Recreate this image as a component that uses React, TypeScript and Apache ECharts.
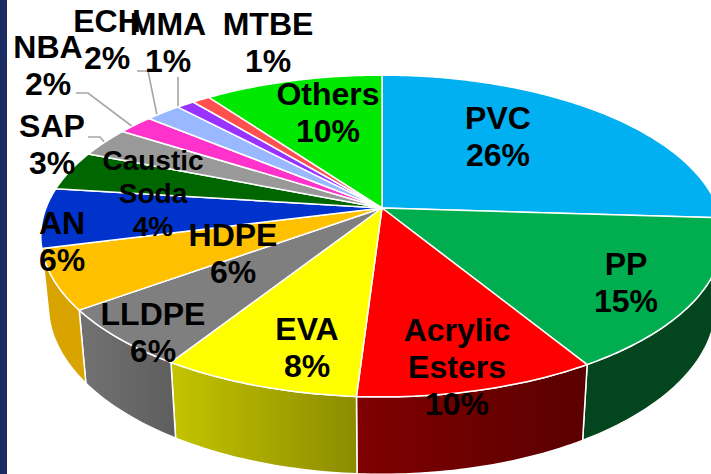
import React, { useEffect, useRef } from "react";
import * as echarts from "echarts";

// ---- data ----
const names = ["PVC", "PP", "Acrylic\nEsters", "EVA", "LLDPE", "HDPE", "AN", "Caustic\nSoda", "SAP", "NBA", "ECH", "MMA", "MTBE", "Others"];
const shares = [26, 15.3, 9.7, 8, 6, 6, 6, 4, 3, 2, 2, 1, 1, 10];

// ---- styles ----
const faceColors = ["#00b0f0", "#00ae4f", "#ff0000", "#ffff00", "#7f7f7f", "#ffc000", "#0033cc", "#006600", "#999999", "#ff33cc", "#99b8ff", "#9933ff", "#ff5050", "#00e800"];
const wallColors: (string[] | null)[] = [
  null,
  ["#03451f", "#03451f"],
  ["#800000", "#5a0000"],
  ["#c4c400", "#8c8c00"],
  ["#727272", "#5e5e5e"],
  ["#d9a300", "#d9a300"],
  null, null, null, null, null, null, null, null,
];

// ---- layout ----
const labelCentres = [
  [498, 136], [626, 282], [457, 367], [307, 347], [153, 332], [233, 253], [62, 241],
  [153, 193], [52, 144], [48, 65], [107, 39], [168, 42], [268, 42], [328, 112],
];
const leaders = [
  [[88, 137], [100, 137], [106, 144]],
  [[76, 93], [88, 93], [133, 127]],
  [[137, 71], [148, 71], [157, 115]],
  [[178, 77], [178, 107]],
];
const APEX_X = 382, APEX_Y = 208, RX = 336, RY = 156, PERSPECTIVE = 0.174;
const WALL_X_SCALE = 0.978, WALL_BASE = 68, WALL_GROW = 0.05;

const total = shares.reduce((a, b) => a + b, 0);
const startOf = (i: number) => shares.slice(0, i).reduce((a, b) => a + b, 0) / total;

const rimPoint = (turn: number) => {
  const t = turn * 2 * Math.PI;
  const w = 1 + PERSPECTIVE * Math.cos(t);
  return [APEX_X + (RX * Math.sin(t)) / w, APEX_Y - (RY * Math.cos(t)) / w];
};
const basePoint = (p: number[]) => [
  APEX_X + WALL_X_SCALE * (p[0] - APEX_X),
  p[1] + WALL_BASE + WALL_GROW * (p[1] - APEX_Y),
];
const rimArc = (from: number, to: number) => {
  const n = Math.max(4, Math.ceil((to - from) * 360));
  const pts: number[][] = [];
  for (let k = 0; k <= n; k++) pts.push(rimPoint(from + ((to - from) * k) / n));
  return pts;
};

const data = shares.map((v) => ({ value: [v] }));

export default function App() {
  const ref = useRef<HTMLDivElement>(null);
  useEffect(() => {
    document.body.style.margin = "0";
    const chart = echarts.init(ref.current!, null, { renderer: "svg" });
    chart.setOption({
      animation: false,
      backgroundColor: "#ffffff",
      graphic: [
        { type: "rect", z: 50, shape: { x: 0, y: 0, width: 7, height: 474 }, style: { fill: "#1a2b63" } },
        ...leaders.map((pts) => ({
          type: "polyline", z: 1, shape: { points: pts },
          style: { stroke: "#a6a6a6", lineWidth: 1.6, fill: "none" },
        })),
      ],
      series: [
        {
          type: "custom", coordinateSystem: "none", z: 2, data, silent: true,
          renderItem: (params: any, api: any) => {
            const i = params.dataIndex;
            const colors = wallColors[i];
            if (!colors) return { type: "group", children: [] };
            const from = startOf(i);
            const arc = rimArc(from, from + api.value(0) / total);
            return {
              type: "polygon",
              shape: { points: [...arc, ...arc.map(basePoint).reverse()] },
              style: {
                fill: { type: "linear", x: 0, y: 0, x2: 1, y2: 0, colorStops: [{ offset: 0, color: colors[0] }, { offset: 1, color: colors[1] }] },
                stroke: "#ffffff", lineWidth: 1.5, lineJoin: "round",
              },
            };
          },
        },
        {
          type: "custom", coordinateSystem: "none", z: 3, data, silent: true,
          renderItem: (params: any, api: any) => {
            const i = params.dataIndex;
            const from = startOf(i);
            const arc = rimArc(from, from + api.value(0) / total);
            return {
              type: "polygon",
              shape: { points: [[APEX_X, APEX_Y], ...arc] },
              style: { fill: faceColors[i], stroke: "#ffffff", lineWidth: 1.5, lineJoin: "round" },
            };
          },
        },
        {
          type: "custom", coordinateSystem: "none", z: 4, data, silent: true,
          renderItem: (params: any, api: any) => {
            const i = params.dataIndex;
            const small = names[i].startsWith("Caustic");
            return {
              type: "text",
              x: labelCentres[i][0],
              y: labelCentres[i][1],
              style: {
                text: `${names[i]}\n${Math.round(api.value(0))}%`,
                fill: "#000000",
                font: `bold ${small ? 28 : 32}px "Liberation Sans", Arial, sans-serif`,
                lineHeight: small ? 33 : 37,
                align: "center",
                verticalAlign: "middle",
              },
            };
          },
        },
      ],
    });
    return () => chart.dispose();
  }, []);
  return <div ref={ref} style={{ position: "absolute", left: 0, top: 0, width: 711, height: 474 }} />;
}
